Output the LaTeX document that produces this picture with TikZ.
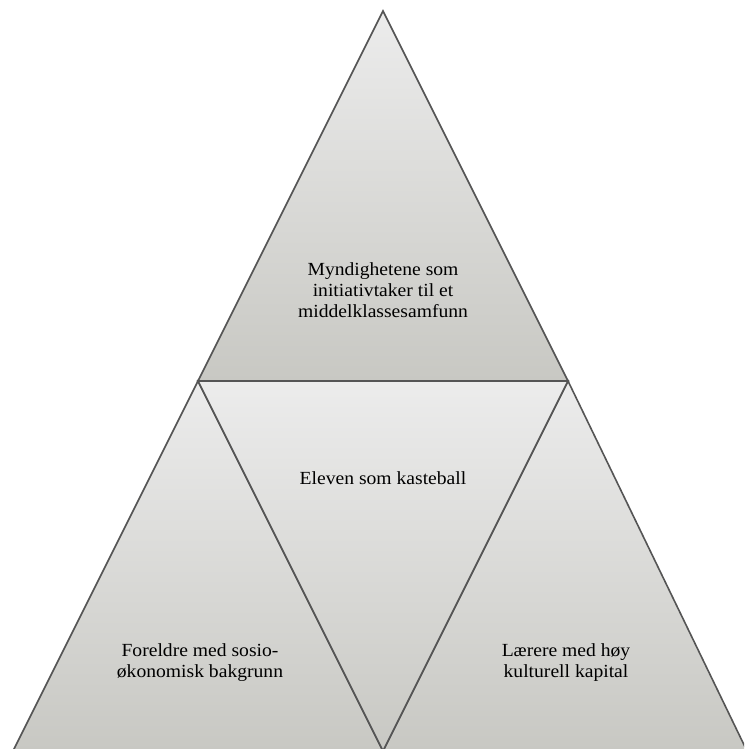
\documentclass[tikz,border=0pt]{standalone}
\usepackage{fontspec}
\setmainfont{Liberation Serif}[FakeStretch=1.06]
\definecolor{hell}{HTML}{ECECEC}
\definecolor{dunkel}{HTML}{C8C8C3}
\definecolor{kante}{HTML}{555555}
\begin{document}
\begin{tikzpicture}[x=1pt,y=1pt,
		feld/.style={draw=kante,line width=1.6pt,line join=miter,top color=hell,bottom color=dunkel},
		etikett/.style={align=center,font=\fontsize{18.5}{21}\selectfont,text=black}]
		\useasboundingbox (0,0) rectangle (744,749);
		\clip (0,0) rectangle (744,749);
		% Eckpunkte
		\coordinate (spitze) at (383,738);
		\coordinate (mitteL) at (198,368);
		\coordinate (mitteR) at (568,368);
		\coordinate (untenL) at (13,-2);
		\coordinate (untenM) at (383,-2);
		\coordinate (untenR) at (747,-2);
		% Oberes Dreieck
		\path[feld] (spitze) -- (mitteR) -- (mitteL) -- cycle;
		% Linkes Dreieck
		\path[feld] (mitteL) -- (untenM) -- (untenL) -- cycle;
		% Rechtes Dreieck
		\path[feld] (mitteR) -- (untenR) -- (untenM) -- cycle;
		% Mittleres Dreieck
		\path[feld] (mitteL) -- (mitteR) -- (untenM) -- cycle;
		% Texte
		\node[etikett] (staat) at (383,459) {Myndighetene som\\initiativtaker til et\\middelklassesamfunn};
		\node[etikett] (elev) at (383,271) {Eleven som kasteball};
		\node[etikett] (eltern) at (200,86) {Foreldre med sosio-\\økonomisk bakgrunn};
		\node[etikett] (lehrer) at (566,86) {Lærere med høy\\kulturell kapital};
	\end{tikzpicture}
\end{document}
